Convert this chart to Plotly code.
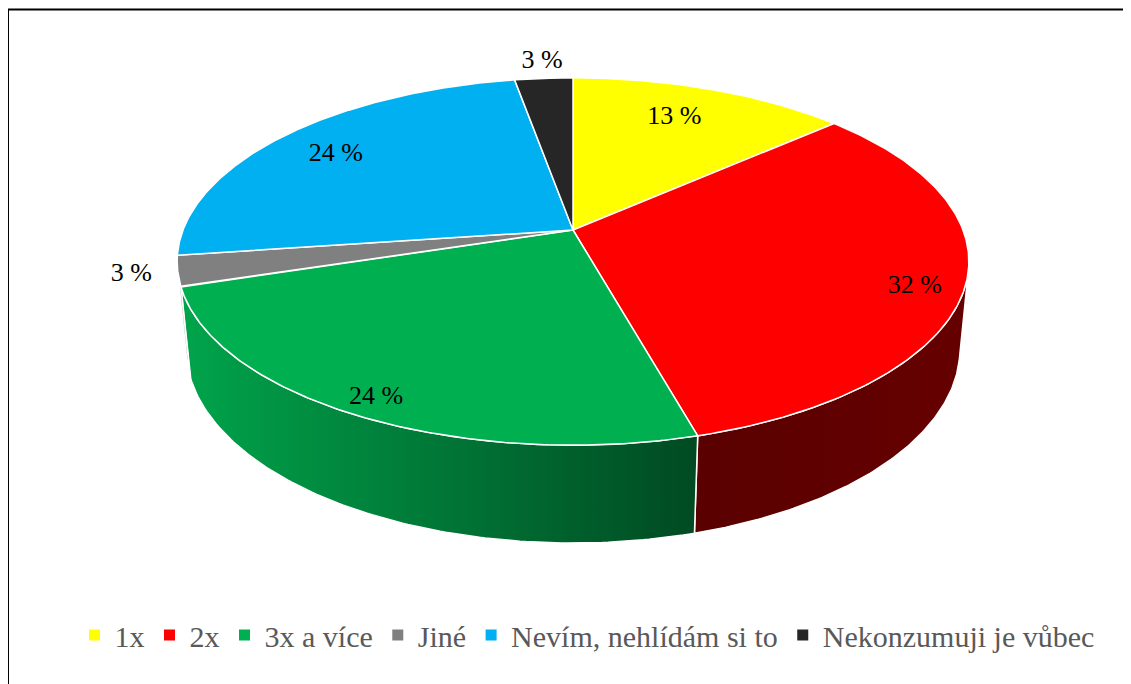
import numpy as np
import plotly.graph_objects as go

# ---------------- data ----------------
categories = ["1x", "2x", "3x a více", "Jiné", "Nevím, nehlídám si to", "Nekonzumuji je vůbec"]
values = [13.4, 32.3, 24.4, 2.7, 24.4, 2.8]          # percent shares (labels show rounded values)
label_texts = ["13 %", "32 %", "24 %", "3 %", "24 %", "3 %"]

# ---------------- style ----------------
top_colors = ["#FFFF00", "#FF0000", "#00B050", "#808080", "#00B0F0", "#262626"]
side_scales = [
    [[0, "#b3b300"], [1, "#8a8a00"]],
    [[0, "#5a0000"], [1, "#660000"]],
    [[0, "#00a44b"], [1, "#004a22"]],
    [[0, "#6a6a6a"], [1, "#5a5a5a"]],
    [[0, "#0090c8"], [1, "#006a96"]],
    [[0, "#1e1e1e"], [1, "#1a1a1a"]],
]
label_r = [0.80, 0.88, 0.91, 1.11, 0.81, 1.15]
label_shift = [(-12, 3), (-2, 10), (-1, 2), (-1, -1), (-1, 3), (2, 2)]
SERIF = "Liberation Serif, Times New Roman, serif"

W, H_PX = 1131, 684
OFF = 8                        # page body margin of the html page
CX, CY = 573.0, 230.0          # screen position of pie centre
F = 2021.2                     # focal length
DIST = 5.183                   # camera distance (radius units)
ALPHA = np.radians(27.2)       # elevation
DEPTH = 0.254                  # pie thickness (radius units)
sA, cA = np.sin(ALPHA), np.cos(ALPHA)


def project(theta_deg, r=1.0, z=0.0):
    t = np.radians(np.asarray(theta_deg, dtype=float))
    x = r * np.sin(t)
    y = -r * np.cos(t)
    up = -y * sA + z * cA
    dep = DIST - (y * cA + z * sA)
    return CX + F * x / dep, CY - F * up / dep


total = sum(values)
cum = np.concatenate([[0], np.cumsum(values)]) / total * 360.0
th_lo = np.degrees(np.arccos(-1.0 / (DIST * cA)))
th_hi = 360.0 - th_lo

fig = go.Figure()
WHITE = dict(color="white", width=1.5)

# side walls (front, visible part)
for i in range(len(values)):
    a, b = max(cum[i], th_lo), min(cum[i + 1], th_hi)
    if b <= a:
        continue
    th = np.linspace(a, b, 120)
    xt, yt = project(th, 1.0, 0.0)
    xb, yb = project(th[::-1], 1.0, -DEPTH)
    xs = np.concatenate([xt, xb, xt[:1]])
    ys = np.concatenate([yt, yb, yt[:1]])
    fig.add_trace(go.Scatter(
        x=xs, y=ys, mode="lines", fill="toself",
        fillgradient=dict(type="horizontal", colorscale=side_scales[i]),
        line=WHITE, showlegend=False, hoverinfo="skip"))

# top faces
for i in range(len(values)):
    th = np.linspace(cum[i], cum[i + 1], 200)
    xr, yr = project(th)
    xs = np.concatenate([[CX], xr, [CX]])
    ys = np.concatenate([[CY], yr, [CY]])
    fig.add_trace(go.Scatter(
        x=xs, y=ys, mode="lines", fill="toself", fillcolor=top_colors[i],
        line=WHITE, showlegend=False, name=categories[i],
        text=label_texts[i], hoverinfo="name+text"))

# data labels
mids = (cum[:-1] + cum[1:]) / 2
lx, ly = [], []
for m, r, (dx, dy) in zip(mids, label_r, label_shift):
    px, py = project(m, r, 0.0)
    lx.append(float(px) + dx)
    ly.append(float(py) + dy)
fig.add_trace(go.Scatter(
    x=lx, y=ly, mode="text", text=label_texts,
    textfont=dict(family=SERIF, size=26, color="#000000"),
    textposition="middle center", showlegend=False, hoverinfo="skip"))

# legend entries
for name, c in zip(categories, top_colors):
    fig.add_trace(go.Scatter(
        x=[None], y=[None], mode="markers", name=name,
        marker=dict(symbol="square", size=11, color=c)))

fig.add_shape(type="rect", xref="x", yref="y", x0=8, y0=9.5, x1=1160, y1=720,
              line=dict(color="black", width=2), fillcolor="rgba(0,0,0,0)", layer="above")

fig.update_layout(
    width=W, height=H_PX,
    margin=dict(l=0, r=0, t=0, b=0, pad=0),
    paper_bgcolor="white", plot_bgcolor="white",
    xaxis=dict(range=[OFF, OFF + W], visible=False, fixedrange=True),
    yaxis=dict(range=[OFF + H_PX, OFF], visible=False, fixedrange=True),
    legend=dict(orientation="h", x=(587 - OFF) / W, xanchor="center",
                y=1 - (635 - OFF) / H_PX, yanchor="middle",
                font=dict(family=SERIF, size=30, color="#595959"),
                itemwidth=30, tracegroupgap=0, bgcolor="rgba(0,0,0,0)"),
    showlegend=True,
)

fig.write_html("out.html")
